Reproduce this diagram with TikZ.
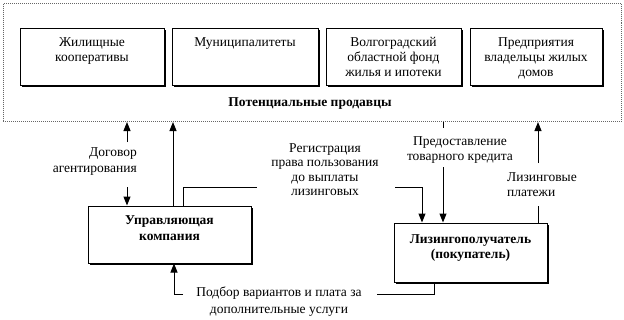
\documentclass[tikz,border=0pt]{standalone}
\usepackage{fontspec}
\setmainfont{Liberation Serif}
\usetikzlibrary{arrows.meta,shadows}
\begin{document}
\begin{tikzpicture}[x=1pt,y=-1pt,
  every node/.style={font=\fontsize{13.5}{15}\selectfont},
  boxstyle/.style={draw=black,line width=1pt,fill=white,inner sep=0pt,
     drop shadow={shadow xshift=1.6pt,shadow yshift=-1.6pt,fill=black,opacity=1}},
  txt/.style={align=center,inner sep=0pt},
  ln/.style={line width=1pt},
  arr/.style={line width=1pt,-{Triangle[length=9pt,width=7pt]}}]
\useasboundingbox (0,0) rectangle (624,319);
% outer frame
\node[draw=black!60,densely dotted,line width=1pt,minimum width=618pt,minimum height=118pt,inner sep=0pt] (outer) at (312,62.5) {};
% top boxes
\node[boxstyle,minimum width=144pt,minimum height=57pt] (b1) at (92,56.5) {};
\node[boxstyle,minimum width=146pt,minimum height=57pt] (b2) at (245,56.5) {};
\node[boxstyle,minimum width=135pt,minimum height=57pt] (b3) at (393.5,56.5) {};
\node[boxstyle,minimum width=132pt,minimum height=57pt] (b4) at (536,56.5) {};
\node[txt,anchor=north] (t1) at ([yshift=-10pt]b1.north) {Жилищные\\кооперативы};
\node[txt,anchor=north] (t2) at ([yshift=-10pt]b2.north) {Муниципалитеты};
\node[txt,anchor=north] (t3) at ([yshift=-10pt]b3.north) {Волгоградский\\областной фонд\\жилья и ипотеки};
\node[txt,anchor=north] (t4) at ([yshift=-10pt]b4.north) {Предприятия\\владельцы жилых\\домов};
\node[txt,font=\fontsize{13.5}{15}\selectfont\bfseries] (sell) at (310,104) {Потенциальные продавцы};
% bottom boxes
\node[boxstyle,minimum width=163pt,minimum height=57pt] (upr) at (169.5,234.5) {};
\node[txt,font=\fontsize{13.5}{16}\selectfont\bfseries,anchor=north] (uprt) at ([yshift=-10pt]upr.north) {Управляющая\\компания};
\node[boxstyle,minimum width=153pt,minimum height=59pt] (liz) at (470.5,252.5) {};
\node[txt,font=\fontsize{13.5}{15}\selectfont\bfseries,anchor=north] (lizt) at ([yshift=-12pt]liz.north) {Лизингополучатель\\(покупатель)};
% labels
\node[txt,align=right,anchor=east,font=\fontsize{13.5}{16.5}\selectfont] (lab1) at (137,161.5) {Договор\\агентирования};
\node[txt,font=\fontsize{13.5}{14.5}\selectfont] (lab2) at (325,169.5) {Регистрация\\права пользования\\до выплаты\\лизинговых};
\node[txt] (lab3) at (460,150.5) {Предоставление\\товарного кредита};
\node[txt,align=left,anchor=west] (lab4) at (507,184.5) {Лизинговые\\платежи};
\node[txt,font=\fontsize{13.5}{17}\selectfont] (lab5) at (279,301.5) {Подбор вариантов и плата за\\дополнительные услуги};
% connector coordinates
\coordinate (a1top) at (127,142);
\coordinate (a1bot) at (127,187);
\coordinate (r1) at (257,187);
\coordinate (r2) at (395,187);
\coordinate (c1) at (443,167);
\coordinate (c0) at (443,128);
\coordinate (p1) at (538,206);
\coordinate (p2) at (538,163);
\coordinate (s1) at (183,294);
\coordinate (s2) at (377,294);
% connectors
\draw[arr] (a1top) -- (a1top |- outer.south);
\draw[arr] (a1bot) -- (a1bot |- upr.north);
\draw[arr] (upr.north -| 173,0) -- (outer.south -| 173,0);
\draw[ln] (upr.north -| 183,0) |- (r1);
\draw[arr] (r2) -| (liz.north -| 422,0);
\draw[ln] (outer.south -| c0) -- (c0);
\draw[arr] (c1) -- (c1 |- liz.north);
\draw[ln] (liz.north -| p1) -- (p1);
\draw[arr] (p2) -- (p2 |- outer.south);
\draw[arr] (s1) -| (upr.south -| 174,0);
\draw[ln] (s2) -| (liz.south -| 434,0);
\end{tikzpicture}
\end{document}
